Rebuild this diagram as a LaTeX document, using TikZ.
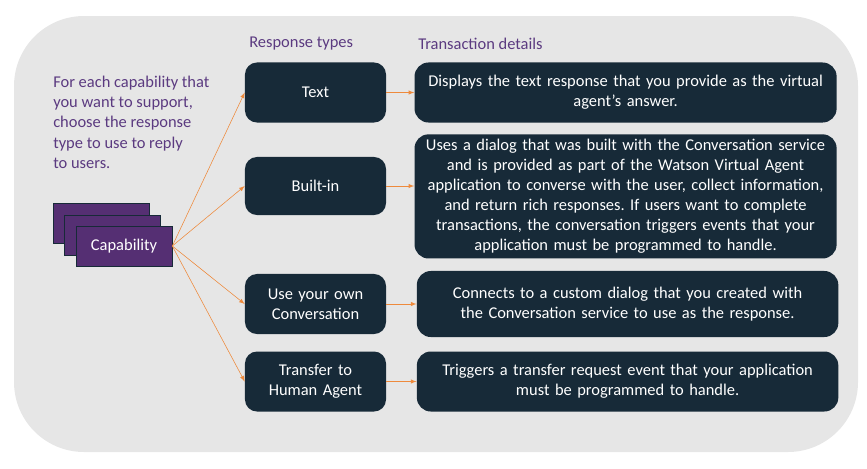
\documentclass[tikz,border=0pt]{standalone}
\usepackage{fontspec}
\setmainfont{Carlito}
\usepackage{xcolor}
\usetikzlibrary{arrows}
\usetikzlibrary{positioning}
\frenchspacing
\definecolor{navy}{HTML}{172A38}
\definecolor{plum}{HTML}{552F73}
\definecolor{plumtext}{HTML}{5B3A80}
\definecolor{panel}{HTML}{E6E6E6}
\definecolor{tangerine}{HTML}{EE8A3C}
\tikzstyle{rtype} = [rectangle, rounded corners=0.3cm, minimum width=3.525cm, minimum height=1.5cm, text width=3.2cm, align=center, fill=navy, text=white, font=\fontsize{11.7}{14.3}\selectfont]
\tikzstyle{detail} = [rectangle, rounded corners=0.35cm, minimum width=10.55cm, minimum height=1.5cm, text width=10.3cm, align=center, fill=navy, text=white, font=\fontsize{11.7}{14.3}\selectfont]
\tikzstyle{capbox} = [rectangle, minimum width=2.4cm, minimum height=1cm, draw=navy, fill=plum, text=white, font=\fontsize{11.7}{14.3}\selectfont]
\tikzstyle{heading} = [anchor=west, inner sep=0pt, text=plumtext, font=\fontsize{11.7}{14.3}\selectfont]
\tikzstyle{arrow} = [thin, draw=tangerine, ->, >=latex]

\begin{document}
\begin{tikzpicture}[x=0.025cm, y=-0.025cm]
    \useasboundingbox (0,0) rectangle (867,468);
    \fill[panel, rounded corners=1.75cm] (14,16) rectangle (858,452);
    %
    \node(hresp)[heading] at (249,44) {Response types};
    \node(hdet)[heading] at (418,44) {Transaction details};
    \node(intro)[heading, anchor=north west, align=left] at (53,76) {For each capability that\\you want to support,\\choose the response\\type to use to reply\\to users.};
    %
    \node(cap1)[capbox] at (101,223) {};
    \node(cap2)[capbox] at (112,235) {};
    \node(cap)[capbox] at (124,246) {Capability};
    %
    \node(text)[rtype] at (315.5,92.5) {Text};
    \node(builtin)[rtype, minimum height=1.45cm] at (315.5,186) {Built-in};
    \node(own)[rtype] at (315.5,304) {Use your own\\Conversation};
    \node(transfer)[rtype] at (315.5,381.5) {Transfer to\\Human Agent};
    %
    \node(textd)[detail, node distance=7.75cm, right of=text] {Displays the text response that you provide as the virtual\\agent's answer.};
    \node(builtind)[detail, node distance=7.75cm, right of=builtin, yshift=-0.26cm, minimum height=3.1cm] {Uses a dialog that was built with the Conversation service\\and is provided as part of the Watson Virtual Agent\\application to converse with the user, collect information,\\and return rich responses. If users want to complete\\transactions, the conversation triggers events that your\\application must be programmed to handle.};
    \node(ownd)[detail, node distance=7.8cm, right of=own, minimum width=10.48cm, minimum height=1.65cm] {Connects to a custom dialog that you created with\\the Conversation service to use as the response.};
    \node(transferd)[detail, node distance=7.8cm, right of=transfer, minimum width=10.48cm] {Triggers a transfer request event that your application\\must be programmed to handle.};
    %
    \draw[arrow](cap.east) -- (text.west);
    \draw[arrow](cap.east) -- (builtin.west);
    \draw[arrow](cap.east) -- (own.west);
    \draw[arrow](cap.east) -- (transfer.west);
    %
    \draw[arrow](text.east) -- (text.east -| textd.west);
    \draw[arrow](builtin.east) -- (builtin.east -| builtind.west);
    \draw[arrow](own.east) -- (own.east -| ownd.west);
    \draw[arrow](transfer.east) -- (transfer.east -| transferd.west);
\end{tikzpicture}
\end{document}
